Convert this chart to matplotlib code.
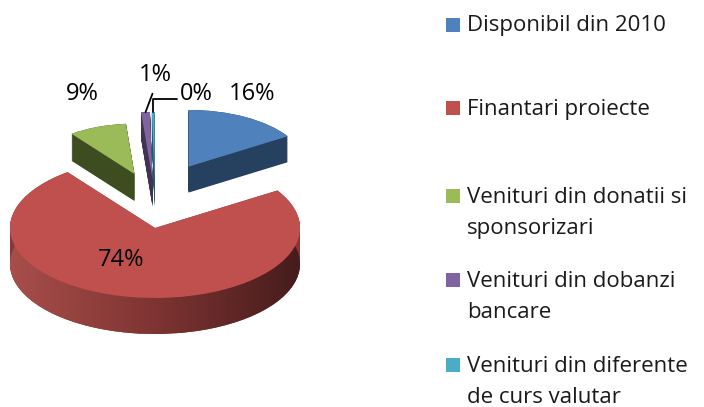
import numpy as np
import matplotlib.pyplot as plt
from matplotlib.colors import LinearSegmentedColormap
from matplotlib.patches import Rectangle

plt.rcParams['font.family'] = ['Open Sans', 'DejaVu Sans']

labels = ["Disponibil din 2010", "Finantari proiecte",
          "Venituri din donatii si\nsponsorizari",
          "Venituri din dobanzi\nbancare",
          "Venituri din diferente\nde curs valutar"]
values = [16.0, 73.7, 9.0, 1.0, 0.3]
top_colors = ["#4F81BD", "#C0504D", "#9BBB59", "#8064A2", "#4BACC6"]
side_colors = ["#26405F", "#8A3634", "#3E4D20", "#403251", "#25566A"]
explode = [0.8, 0.0, 0.66, 0.55, 0.55]
radii = [0.81, 1.0, 0.72, 0.97, 0.97]    # back slices drawn smaller (fake perspective)
depth_k = [0.72, 1.0, 0.75, 0.75, 0.75]
OFF_SX, OFF_SY = 0.6, 1.25               # squash/stretch the explode offsets (perspective)

W, H = 704, 407
CX, CY, SX, SY = 155, 228, 145, 70       # pie centre (px) and px per unit
DEPTH = 36 / SY

fig = plt.figure(figsize=(W / 100, H / 100), dpi=100)
ax = fig.add_axes([0, 0, 1, 1])


def pie_layer(drop, colors, z):
    wedges, _ = ax.pie(values, explode=explode, colors=colors, startangle=90,
                       counterclock=False, wedgeprops=dict(linewidth=0))
    for w, r, d in zip(wedges, radii, depth_k):
        w.set_radius(r)
        cx, cy = w.center
        w.set_center((cx * OFF_SX, cy * OFF_SY - drop * d))
        w.set_zorder(z)
    return wedges


# side walls: stack of darker pies
layers = [pie_layer(d, side_colors, 1) for d in np.linspace(DEPTH, 0, 45)]

# gradient on the red wall
red_cmap = LinearSegmentedColormap.from_list("redside", ["#A84E4B", "#7E3432", "#461C1C"])
im = ax.imshow(np.linspace(0, 1, 256).reshape(1, -1), cmap=red_cmap, aspect='auto',
               extent=(-1, 1, -DEPTH - 1, 1), zorder=1.5)
im.set_clip_path(layers[0][1])

tops = pie_layer(0, top_colors, 2)

# percentage labels
total = sum(values)
pct = [f"{round(v / total * 100)}%" for v in values]
label_px = [(252, 94), (121, 260), (82, 94), (155, 75), (196, 94)]
FS = 17
for i in (0, 1, 2):
    x, y = label_px[i]
    fig.text(x / W, 1 - y / H, pct[i], ha='center', va='center', fontsize=FS, color='black')


def rim_top(w):
    t = np.radians((w.theta1 + w.theta2) / 2)
    return (w.center[0] + w.r * np.cos(t), w.center[1] + w.r * np.sin(t))


x, y = label_px[3]
ax.annotate(pct[3], xy=rim_top(tops[3]), xytext=(x / W, 1 - y / H), textcoords='figure fraction',
            ha='center', va='center', fontsize=FS, zorder=5,
            arrowprops=dict(arrowstyle='-', color='black', lw=1.3, shrinkA=3, shrinkB=0,
                            relpos=(0.5, 0)))
x, y = label_px[4]
ax.annotate(pct[4], xy=rim_top(tops[4]), xytext=(x / W, 1 - y / H), textcoords='figure fraction',
            ha='center', va='center', fontsize=FS, zorder=5,
            arrowprops=dict(arrowstyle='-', color='black', lw=1.3, shrinkA=0, shrinkB=0,
                            relpos=(0, 0.3),
                            connectionstyle="angle,angleA=180,angleB=90,rad=0"))

ax.set_aspect('auto')
ax.set_xlim((0 - CX) / SX, (W - CX) / SX)
ax.set_ylim((CY - H) / SY, CY / SY)
ax.axis('off')

# legend, laid out like the Excel one (baselines in px from top)
entry_base = [31.5, 115, 203, 287, 372]
LINE = 31
for lab, col, yb in zip(labels, top_colors, entry_base):
    fig.patches.append(Rectangle((446 / W, 1 - yb / H), 14 / W, 14 / H,
                                 transform=fig.transFigure, facecolor=col, edgecolor='none'))
    for j, line in enumerate(lab.split("\n")):
        fig.text(467 / W, 1 - (yb + LINE * j) / H, line, ha='left', va='baseline',
                 fontsize=16, color='#1a1a1a')

fig.savefig("out.png", dpi=100)
